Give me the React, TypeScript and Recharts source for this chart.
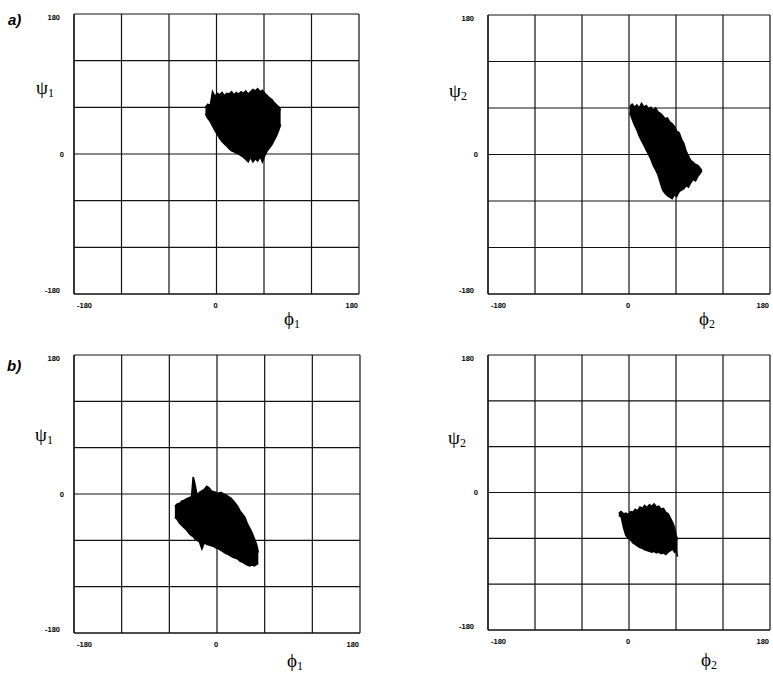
import React from 'react';
import { ComposedChart, Area, XAxis, YAxis, CartesianGrid } from 'recharts';

// grid every 60 degrees, only three of them get a label
const TICKS = [-180, -120, -60, 0, 60, 120, 180];
const LABELED = [-180, 0, 180];

// extent of each trajectory cloud: phi -> [lowest psi, highest psi]
const cloudA1 = [
  { phi: -14, psi: [52, 60] },
  { phi: -11, psi: [46, 64] },
  { phi: -8, psi: [42, 62] },
  { phi: -5, psi: [36, 80] },
  { phi: -2, psi: [30, 74] },
  { phi: 1, psi: [26, 78] },
  { phi: 4, psi: [20, 76] },
  { phi: 7, psi: [16, 79] },
  { phi: 10, psi: [13, 75] },
  { phi: 13, psi: [10, 78] },
  { phi: 16, psi: [7, 77] },
  { phi: 19, psi: [4, 80] },
  { phi: 22, psi: [3, 76] },
  { phi: 25, psi: [1, 79] },
  { phi: 28, psi: [0, 77] },
  { phi: 31, psi: [-2, 80] },
  { phi: 34, psi: [-4, 78] },
  { phi: 37, psi: [-7, 81] },
  { phi: 40, psi: [-10, 77] },
  { phi: 43, psi: [-4, 80] },
  { phi: 46, psi: [-10, 83] },
  { phi: 49, psi: [-6, 81] },
  { phi: 52, psi: [-9, 84] },
  { phi: 55, psi: [-3, 80] },
  { phi: 58, psi: [-10, 82] },
  { phi: 61, psi: [-2, 78] },
  { phi: 64, psi: [4, 75] },
  { phi: 67, psi: [8, 72] },
  { phi: 70, psi: [12, 70] },
  { phi: 73, psi: [18, 66] },
  { phi: 76, psi: [24, 63] },
  { phi: 79, psi: [32, 60] },
  { phi: 81, psi: [38, 56] },
];

const cloudA2 = [
  { phi: 1, psi: [54, 62] },
  { phi: 4, psi: [46, 65] },
  { phi: 7, psi: [38, 61] },
  { phi: 10, psi: [32, 64] },
  { phi: 13, psi: [24, 60] },
  { phi: 16, psi: [18, 66] },
  { phi: 19, psi: [12, 61] },
  { phi: 22, psi: [6, 63] },
  { phi: 25, psi: [0, 59] },
  { phi: 28, psi: [-6, 61] },
  { phi: 31, psi: [-14, 57] },
  { phi: 34, psi: [-20, 60] },
  { phi: 37, psi: [-26, 55] },
  { phi: 40, psi: [-36, 53] },
  { phi: 43, psi: [-46, 50] },
  { phi: 46, psi: [-50, 46] },
  { phi: 49, psi: [-53, 47] },
  { phi: 52, psi: [-55, 42] },
  { phi: 55, psi: [-57, 40] },
  { phi: 58, psi: [-52, 36] },
  { phi: 61, psi: [-54, 30] },
  { phi: 64, psi: [-48, 28] },
  { phi: 67, psi: [-46, 20] },
  { phi: 70, psi: [-44, 14] },
  { phi: 73, psi: [-40, 4] },
  { phi: 76, psi: [-42, -2] },
  { phi: 79, psi: [-36, -8] },
  { phi: 82, psi: [-32, -10] },
  { phi: 85, psi: [-34, -13] },
  { phi: 88, psi: [-28, -14] },
  { phi: 91, psi: [-24, -18] },
  { phi: 93, psi: [-21, -20] },
];

const cloudB1 = [
  { phi: -53, psi: [-30, -16] },
  { phi: -50, psi: [-33, -13] },
  { phi: -47, psi: [-38, -12] },
  { phi: -44, psi: [-41, -9] },
  { phi: -41, psi: [-44, -8] },
  { phi: -38, psi: [-47, -6] },
  { phi: -35, psi: [-51, -5] },
  { phi: -32, psi: [-54, -3] },
  { phi: -30, psi: [-55, 22] },
  { phi: -28, psi: [-58, 14] },
  { phi: -25, psi: [-60, -2] },
  { phi: -22, psi: [-62, 2] },
  { phi: -19, psi: [-71, 4] },
  { phi: -16, psi: [-63, 6] },
  { phi: -13, psi: [-65, 10] },
  { phi: -10, psi: [-66, 8] },
  { phi: -7, psi: [-67, 4] },
  { phi: -4, psi: [-68, 3] },
  { phi: -1, psi: [-70, 2] },
  { phi: 2, psi: [-71, 1] },
  { phi: 5, psi: [-73, 2] },
  { phi: 8, psi: [-75, 0] },
  { phi: 11, psi: [-77, -1] },
  { phi: 14, psi: [-78, -3] },
  { phi: 17, psi: [-80, -5] },
  { phi: 20, psi: [-82, -8] },
  { phi: 23, psi: [-83, -12] },
  { phi: 26, psi: [-84, -16] },
  { phi: 29, psi: [-87, -22] },
  { phi: 32, psi: [-88, -26] },
  { phi: 35, psi: [-90, -30] },
  { phi: 38, psi: [-92, -38] },
  { phi: 41, psi: [-93, -44] },
  { phi: 44, psi: [-92, -50] },
  { phi: 47, psi: [-93, -58] },
  { phi: 50, psi: [-91, -66] },
  { phi: 52, psi: [-90, -76] },
];

const cloudB2 = [
  { phi: -13, psi: [-30, -27] },
  { phi: -10, psi: [-32, -25] },
  { phi: -7, psi: [-46, -28] },
  { phi: -4, psi: [-56, -27] },
  { phi: -1, psi: [-60, -29] },
  { phi: 2, psi: [-62, -25] },
  { phi: 5, psi: [-66, -26] },
  { phi: 8, psi: [-68, -22] },
  { phi: 11, psi: [-70, -24] },
  { phi: 14, psi: [-72, -19] },
  { phi: 17, psi: [-73, -21] },
  { phi: 20, psi: [-75, -17] },
  { phi: 23, psi: [-76, -20] },
  { phi: 26, psi: [-77, -16] },
  { phi: 29, psi: [-78, -18] },
  { phi: 32, psi: [-77, -15] },
  { phi: 35, psi: [-79, -19] },
  { phi: 38, psi: [-78, -18] },
  { phi: 41, psi: [-80, -22] },
  { phi: 44, psi: [-79, -21] },
  { phi: 47, psi: [-81, -26] },
  { phi: 50, psi: [-78, -28] },
  { phi: 53, psi: [-76, -34] },
  { phi: 56, psi: [-74, -40] },
  { phi: 58, psi: [-78, -46] },
  { phi: 60, psi: [-76, -56] },
  { phi: 62, psi: [-84, -62] },
];

// plot boxes in page pixels
const PANELS = [
  { key: 'a1', data: cloudA1, x: 74, y: 14, w: 285, h: 280 },
  { key: 'a2', data: cloudA2, x: 488, y: 15, w: 282, h: 279 },
  { key: 'b1', data: cloudB1, x: 74, y: 355, w: 286, h: 278 },
  { key: 'b2', data: cloudB2, x: 488, y: 355, w: 282, h: 275 },
];

const PAD_L = 40;
const PAD_T = 10;
const PAD_R = 12;
const PAD_B = 26;

const tickFont = { fontFamily: 'Liberation Sans, Arial, sans-serif', fontSize: 7.5, fontWeight: 'bold' as const };

const XTick = ({ x, y, payload }: any) => {
  const v = payload.value;
  if (!LABELED.includes(v)) return null;
  const anchor = v === -180 ? 'start' : v === 180 ? 'end' : 'middle';
  const dx = v === -180 ? 3 : -1;
  return (
    <text x={x + dx} y={y + 11} textAnchor={anchor} dominantBaseline="central" fill="#000" style={tickFont}>
      {v}
    </text>
  );
};

const YTick = ({ x, y, payload }: any) => {
  const v = payload.value;
  if (!LABELED.includes(v)) return null;
  const dy = v === 180 ? 3 : v === -180 ? -4 : 0;
  const dx = v === 0 ? -10 : -14;
  return (
    <text x={x + dx} y={y + dy} textAnchor="end" dominantBaseline="central" fill="#000" style={tickFont}>
      {v}
    </text>
  );
};

const Panel = ({ p }: { p: (typeof PANELS)[number] }) => (
  <div style={{ position: 'absolute', left: p.x - PAD_L, top: p.y - PAD_T }}>
    <ComposedChart
      width={p.w + PAD_L + PAD_R}
      height={p.h + PAD_T + PAD_B}
      data={p.data}
      margin={{ top: PAD_T, right: PAD_R, left: 0, bottom: 0 }}
    >
      <CartesianGrid stroke="#111" strokeWidth={1.2} />
      <XAxis
        type="number"
        dataKey="phi"
        domain={[-180, 180]}
        ticks={TICKS}
        height={PAD_B}
        tickSize={0}
        tickMargin={0}
        tickLine={false}
        axisLine={{ stroke: '#111', strokeWidth: 1.2 }}
        tick={<XTick />}
        interval={0}
      />
      <YAxis
        type="number"
        domain={[-180, 180]}
        ticks={TICKS}
        width={PAD_L}
        tickSize={0}
        tickMargin={0}
        tickLine={false}
        axisLine={{ stroke: '#111', strokeWidth: 1.2 }}
        tick={<YTick />}
        interval={0}
      />
      <Area
        dataKey="psi"
        type="linear"
        stroke="#000"
        strokeWidth={1.6}
        fill="#000"
        fillOpacity={1}
        isAnimationActive={false}
        dot={false}
        activeDot={false}
      />
    </ComposedChart>
  </div>
);

const greek = { position: 'absolute' as const, fontFamily: 'Liberation Serif, DejaVu Serif, serif', fontSize: 19, lineHeight: 1, color: '#000' };
const sub = { fontSize: 12, position: 'relative' as const, top: 3 };
const tag = { position: 'absolute' as const, fontFamily: 'Liberation Sans, Arial, sans-serif', fontSize: 15, fontWeight: 'bold' as const, fontStyle: 'italic' as const, lineHeight: 1, color: '#000' };

export default function App() {
  return (
    <div style={{ position: 'absolute', left: 0, top: 0, width: 773, height: 675, overflow: 'hidden', background: '#fff' }}>
      {PANELS.map((p) => (
        <Panel key={p.key} p={p} />
      ))}
      <div style={{ ...tag, left: 8, top: 12 }}>a)</div>
      <div style={{ ...tag, left: 7, top: 358 }}>b)</div>

      <div style={{ ...greek, left: 36, top: 78 }}>ψ<span style={sub}>1</span></div>
      <div style={{ ...greek, left: 449, top: 81 }}>ψ<span style={sub}>2</span></div>
      <div style={{ ...greek, left: 35, top: 425 }}>ψ<span style={sub}>1</span></div>
      <div style={{ ...greek, left: 448, top: 428 }}>ψ<span style={sub}>2</span></div>

      <div style={{ ...greek, left: 284, top: 309 }}>ϕ<span style={sub}>1</span></div>
      <div style={{ ...greek, left: 699, top: 309 }}>ϕ<span style={sub}>2</span></div>
      <div style={{ ...greek, left: 287, top: 651 }}>ϕ<span style={sub}>1</span></div>
      <div style={{ ...greek, left: 701, top: 650 }}>ϕ<span style={sub}>2</span></div>
    </div>
  );
}
